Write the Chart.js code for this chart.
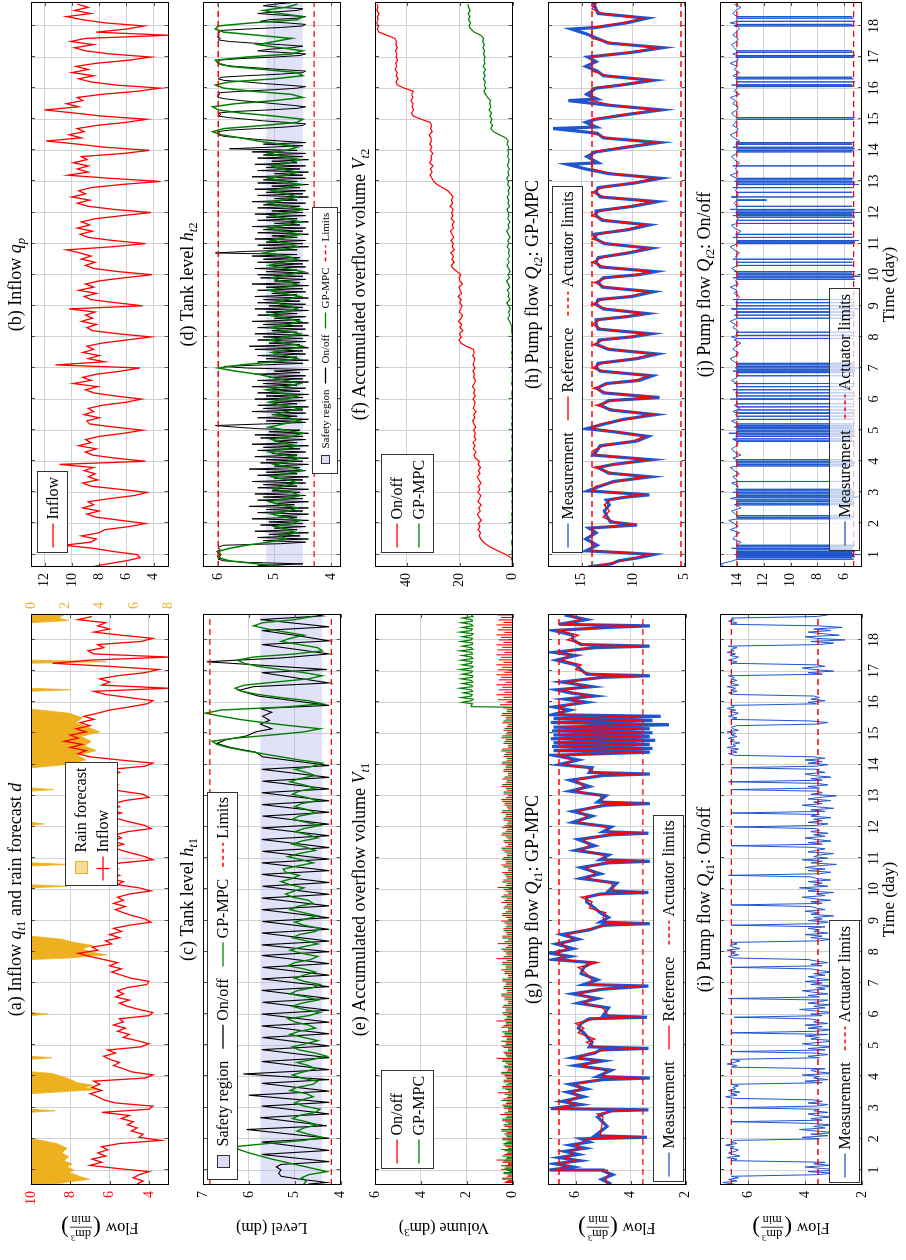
<!DOCTYPE html>
<html>
<head>
<meta charset="utf-8">
<title>Sewer tanks: on/off control versus GP-MPC</title>
<script src="https://cdn.jsdelivr.net/npm/chart.js@4.4.1/dist/chart.umd.min.js"></script>
<style>
  html, body { margin: 0; padding: 0; background: #ffffff; }
  body { width: 906px; height: 1260px; overflow: hidden; position: relative; }
  #figure { position: absolute; left: 0; top: 0; width: 1260px; height: 906px; background: #ffffff;
            transform-origin: 0 0; transform: translate(0, 1260px) rotate(-90deg); }
  #figure canvas { position: absolute; }
</style>
</head>
<body>
<div id="figure"></div>
<script>
// ================= time axis =================
const dayTicks = [1, 2, 3, 4, 5, 6, 7, 8, 9, 10, 11, 12, 13, 14, 15, 16, 17, 18];
const dayRangeLeft = [0.52, 18.83];
const dayRangeRight = [0.6, 18.77];

// ================= (a) inflow q_t1 (sampled every 0.1 day) and rain forecast d =================
const qt1Start = 0.55, qt1Step = 0.1;
const qt1Flow = [4.6,4.3,4.8,4.5,4.0,
  5.6,7.0,6.4,6.9,6.2,6.6,6.1,6.4,5.5,3.4,
  4.5,4.3,4.9,4.6,5.1,4.8,5.4,5.0,6.4,4.0,
  3.8,5.7,6.3,6.6,7.0,6.4,6.9,6.5,6.8,4.2,
  3.8,4.9,5.3,5.8,5.5,6.0,6.3,5.7,6.1,4.4,
  4.0,4.6,5.3,5.0,5.6,5.2,5.8,5.3,5.5,4.0,
  3.8,4.5,5.1,5.5,5.0,5.7,5.3,5.6,5.1,4.1,
  4.0,4.9,5.4,5.9,5.4,6.0,5.6,6.3,7.0,7.6,
  6.6,6.9,5.9,6.2,5.5,6.0,5.4,5.8,5.0,3.9,
  4.2,4.8,5.3,5.7,5.2,5.8,5.3,5.6,5.0,3.9,
  4.5,5.6,5.3,6.0,5.5,6.1,5.6,6.4,5.4,3.8,
  4.2,4.8,5.4,5.8,5.3,5.9,5.4,5.7,5.1,3.9,
  4.2,4.9,5.5,5.9,5.4,6.0,5.5,5.8,5.2,4.0,
  4.3,5.4,6.1,5.6,6.2,5.7,6.0,5.5,5.9,4.2,
  3.8,5.5,7.0,7.6,7.2,8.0,7.4,8.3,7.6,8.0,
  7.2,7.7,7.0,7.5,6.8,7.3,6.6,6.0,5.0,4.1,
  3.8,5.0,6.2,6.8,3.0,6.4,6.0,6.5,5.6,4.2,
  3.5,6.0,8.9,7.0,3.0,6.8,7.1,6.3,6.6,4.4,
  3.8,5.4,6.8,6.0,6.6,6.2,7.6,6.9];
const rainForecast = [[0.52,0],[0.58,1.8],[0.62,2.2],[0.7,3.4],[0.78,2.9],[0.85,2.6],[0.92,2.2],[1.0,2.5],[1.1,2.1],
  [1.2,2.4],[1.3,1.9],[1.42,2.2],[1.55,1.8],[1.7,2.1],[1.85,1.5],[1.95,0.6],[2.0,0],[2.85,0],[2.9,1.4],[2.95,0],
  [3.45,0],[3.5,1.5],[3.58,3.9],[3.65,3.1],[3.72,3.6],[3.8,2.7],[3.9,2.3],[4.0,1.8],[4.1,1.2],[4.15,0],
  [4.55,0],[4.6,1.2],[4.65,0],[5.95,0],[6.0,1.0],[6.05,0],[7.75,0],[7.8,2.2],[7.9,4.4],[8.0,3.4],[8.1,3.0],
  [8.2,3.6],[8.3,2.5],[8.4,1.8],[8.5,0],[10.05,0],[10.1,2.1],[10.15,0],[10.75,0],[10.8,2.2],[10.85,0],
  [12.05,0],[12.1,0.75],[12.15,0],[13.15,0],[13.2,1.3],[13.25,0],[13.9,0],[14.0,2.0],[14.15,3.2],[14.3,2.7],
  [14.45,3.8],[14.6,3.1],[14.75,3.5],[14.9,2.9],[15.05,4.0],[15.2,3.3],[15.35,2.6],[15.5,3.0],[15.65,2.2],
  [15.72,1.0],[15.78,0],[16.35,0],[16.4,2.3],[16.45,0],[17.25,0],[17.3,4.4],[17.35,0],[18.55,0],[18.62,2.2],
  [18.7,1.6],[18.83,2.0]];

// ================= (b) inflow q_p (every 0.1 day) =================
const qpStart = 0.6, qpStep = 0.1;
const qpFlow = [8.6,7.4,6.0,5.0,
  5.2,7.0,8.4,10.6,8.6,8.2,9.3,8.0,7.6,5.8,
  4.6,6.4,8.2,8.9,8.0,9.2,8.4,8.8,7.2,5.4,
  4.5,6.5,8.6,9.2,8.1,8.8,8.3,9.1,8.4,10.9,
  4.6,6.8,8.5,9.0,8.2,9.5,8.6,9.0,8.0,6.2,
  4.8,6.9,8.7,8.9,8.0,9.1,8.4,8.8,7.8,6.0,
  4.9,6.8,8.4,9.0,8.1,9.9,8.6,9.2,8.2,6.4,
  5.0,11.2,7.6,8.8,8.0,9.2,8.4,8.9,7.8,6.0,
  4.2,6.6,8.5,8.9,8.2,9.3,8.5,9.0,8.3,10.2,
  4.8,6.8,8.6,9.1,8.2,9.5,8.4,9.0,8.0,6.2,
  4.1,6.6,8.4,9.0,8.3,9.3,8.6,9.4,10.4,7.0,
  4.6,7.0,8.8,9.4,8.5,9.6,8.7,9.3,8.3,6.3,
  4.2,6.9,8.8,9.6,8.7,10.0,9.0,9.5,8.6,6.4,
  3.5,7.2,10.3,8.8,9.6,8.8,9.9,8.9,9.3,6.2,
  4.3,7.6,9.6,11.9,9.3,10.2,9.1,9.6,8.2,6.0,
  4.5,7.8,9.8,12.0,9.5,10.4,9.2,9.6,7.8,5.2,
  3.5,6.8,8.6,9.5,8.4,10.0,8.8,9.7,8.2,5.8,
  4.2,7.2,9.0,9.8,8.4,10.1,9.0,2.9,8.2,6.0,
  4.7,7.6,9.2,10.4,8.6,9.8,8.8,9.6];

// ================= (c) tank level h_t1 =================
const hT1Safety = [4.4, 5.75];
const hT1Limits = [4.2, 6.85];
const hT1OnOff = [[0.55,4.7],[0.6,4.3],[0.72,4.95],[0.8,5.3],[0.9,5.35],[1.0,5.3],[1.1,5.4],[1.18,5.3],[1.27,4.25],
  [1.5,5.72],[1.63,4.25],[1.9,5.72],[2.02,4.25],[2.3,6.05],[2.42,4.3],[2.68,5.75],[2.8,4.25],[3.05,5.72],[3.17,4.25],
  [3.4,6.0],[3.53,4.25],[3.78,5.72],[3.9,4.25],[4.08,6.12],[4.22,4.25],[4.48,5.72],[4.6,4.25],[4.86,5.72],[4.98,4.25],
  [5.25,5.7],[5.37,4.25],[5.62,5.72],[5.74,4.25],[6.0,5.72],[6.12,4.25],[6.38,5.7],[6.5,4.25],[6.76,5.72],[6.88,4.25],
  [7.13,5.72],[7.25,4.25],[7.5,5.7],[7.62,4.25],[7.88,5.72],[8.0,4.25],[8.22,5.72],[8.34,4.25],[8.6,5.72],[8.72,4.25],
  [8.97,5.7],[9.09,4.25],[9.35,5.72],[9.47,4.25],[9.72,5.72],[9.84,4.25],[10.1,5.7],[10.22,4.25],[10.48,5.72],[10.6,4.25],
  [10.85,5.72],[10.97,4.25],[11.22,5.7],[11.34,4.25],[11.6,5.72],[11.72,4.25],[11.97,5.72],[12.09,4.25],[12.35,5.7],
  [12.47,4.25],[12.72,5.72],[12.84,4.25],[13.1,5.72],[13.22,4.25],[13.47,5.7],[13.59,4.25],[13.85,5.72],[13.97,4.25],
  [14.25,5.7],[14.4,5.85],[14.55,6.4],[14.68,6.7],[14.8,6.5],[14.92,6.05],[15.05,5.85],[15.15,5.5],[15.3,5.75],
  [15.42,5.55],[15.55,5.7],[15.68,5.5],[15.8,5.75],[15.9,4.25],[16.2,5.8],[16.38,6.22],[16.5,5.9],[16.62,4.25],
  [16.95,5.72],[17.05,4.3],[17.3,6.92],[17.42,5.3],[17.55,4.25],[17.85,5.72],[17.97,4.25],[18.15,5.0],[18.3,5.72],
  [18.42,4.25],[18.65,5.75],[18.77,4.4],[18.83,4.6]];
const hT1GpStart = 0.55, hT1GpStep = 0.1;
const hT1Gp = [4.8,4.75,4.85,4.7,4.3,4.6,4.9,5.2,5.5,5.75,6.0,6.2,6.3,5.6,4.8,
  4.4,4.7,4.95,4.8,4.5,4.75,5.05,4.9,4.55,4.45,4.8,5.0,4.85,4.6,4.75,5.1,4.95,4.6,4.5,4.85,
  5.05,4.8,4.55,4.7,4.95,4.6,4.3,4.55,4.9,5.05,4.75,4.5,4.8,5.1,4.9,4.55,4.7,5.0,5.15,4.7,
  4.45,4.8,5.05,4.85,4.5,4.75,5.1,4.95,4.6,4.45,4.8,5.0,4.8,4.55,4.8,5.15,5.0,4.65,4.5,4.85,
  5.1,4.85,4.5,4.75,5.05,4.9,4.55,4.45,4.8,5.0,4.75,4.5,4.8,5.1,4.95,4.6,4.7,5.05,5.2,5.0,
  4.8,5.1,5.3,5.05,4.9,5.2,5.25,4.95,4.6,4.85,5.15,4.9,4.55,4.75,5.05,4.85,4.5,4.7,5.0,4.8,
  4.45,4.75,5.05,4.9,4.55,4.7,5.0,4.85,4.5,4.75,5.05,4.9,4.55,4.8,5.1,4.9,4.55,4.75,5.0,4.6,
  4.4,4.9,5.3,5.7,6.1,6.45,6.7,6.8,6.3,5.5,4.8,4.45,5.1,5.7,6.2,6.6,6.95,6.6,5.2,4.4,
  4.7,5.3,5.8,6.15,6.3,6.1,5.4,4.7,4.4,4.8,5.3,5.8,6.1,6.25,5.9,5.0,4.4,4.5,4.9,5.3,
  5.1,4.8,5.2,5.6,5.9,5.7,5.0,4.6];

// ================= (d) tank level h_t2 =================
const hT2Safety = [4.5, 5.15];
const hT2Limits = [4.3, 6.0];
const hT2OnOffStart = 0.6, hT2OnOffStep = 0.05;
const hT2OnOff = [4.6,5.3,4.5,5.5,5.9,
  6.0,5.95,6.02,5.97,6.0,6.03,5.96,6.0,5.98,5.9,
  4.9,4.45,5.2,4.4,5.3,4.55,5.1,4.4,5.35,4.6,5.0,4.45,5.25,
  4.5,5.1,4.4,5.4,4.6,4.95,4.4,5.3,4.5,5.15,4.4,5.45,4.65,5.0,4.4,5.3,4.5,5.2,4.45,5.35,
  4.55,5.05,4.4,5.3,4.6,5.2,4.45,5.4,4.5,5.0,4.4,5.3,4.6,5.15,4.45,5.45,4.55,5.0,4.4,5.25,
  4.5,5.15,4.4,5.35,4.6,5.05,4.45,5.3,4.55,5.2,4.4,5.4,4.6,5.0,4.45,5.25,4.5,5.35,4.4,5.1,
  4.55,5.3,5.7,6.05,5.2,4.45,5.15,4.4,5.3,4.6,5.05,4.45,5.4,4.5,5.2,4.4,5.3,4.6,5.0,4.45,
  5.35,4.5,5.15,4.4,5.3,4.55,5.05,4.45,5.4,4.6,5.2,4.4,5.3,4.5,5.1,4.45,5.35,4.55,5.0,4.4,
  5.5,5.9,5.2,4.5,5.3,4.4,5.15,4.6,5.3,4.45,5.05,4.5,5.35,4.4,5.45,4.55,5.1,4.45,5.3,4.5,
  5.2,4.4,5.35,4.6,5.05,4.45,5.3,4.5,5.2,4.4,5.4,4.55,5.0,4.45,5.3,4.6,5.15,4.4,5.35,4.5,
  5.1,4.45,5.3,4.55,5.2,4.4,5.35,4.6,5.05,4.45,5.3,4.5,5.15,4.4,5.4,4.55,5.0,4.45,5.25,4.5,
  5.3,4.4,5.15,4.6,5.35,4.45,5.05,4.5,5.3,4.4,5.2,4.55,5.4,4.6,6.05,5.5,4.6,5.2,4.4,5.3,
  4.5,5.15,4.45,5.35,4.6,5.05,4.4,5.3,4.5,5.2,4.45,5.4,4.55,5.0,4.4,5.3,4.6,5.15,4.45,5.35,
  4.5,5.05,4.4,5.3,4.55,5.2,4.45,5.4,4.6,5.0,4.4,5.3,4.5,5.15,4.45,5.35,4.55,5.05,4.4,5.3,
  4.6,5.2,4.45,5.4,4.5,5.0,4.4,5.3,4.55,5.15,4.45,5.35,4.6,5.05,4.4,5.3,4.5,5.2,4.45,5.4,
  4.6,5.8,5.1,4.5,5.2,4.45,4.9,5.3,5.6,5.9,6.0,5.97,6.02,5.8,5.3,4.8,4.5,4.45,4.8,5.2,
  5.5,5.8,6.0,5.95,6.0,5.7,5.1,4.6,4.45,4.7,5.0,5.3,5.6,5.85,6.0,6.02,5.97,6.0,5.6,5.0,
  4.6,4.45,4.8,5.2,5.5,5.9,6.0,5.95,5.5,4.9,4.5,4.45,4.9,5.3,5.7,5.95,6.0,5.98,6.0,5.6,
  5.0,4.55,4.45,4.9,5.3,5.1,4.7,4.5,4.9,5.4,5.8,6.0,5.96,6.02,5.98,6.0,5.97,6.0,5.5,4.9,
  4.5,4.45,4.8,5.25,5.1,4.6,4.45,4.9,5.3,5.0,4.6,4.5,4.9,5.2,5.0,4.7];
const hT2GpStart = 0.6, hT2GpStep = 0.1;
const hT2Gp = [4.8,5.3,5.8,6.0,5.95,6.0,5.8,5.5,5.1,4.8,4.9,4.6,4.8,5.0,
  4.7,4.55,4.8,5.05,4.75,4.6,4.9,5.1,4.8,4.55,4.7,5.0,4.85,4.6,4.75,5.05,4.8,4.5,4.7,5.0,
  4.75,4.55,4.85,5.1,4.8,4.6,4.9,5.05,4.7,4.5,4.8,5.1,4.85,4.55,4.75,5.0,4.8,4.55,4.85,5.1,
  4.8,4.6,4.9,5.15,4.8,4.55,4.8,5.05,5.3,5.7,6.0,5.6,5.0,4.6,4.8,5.05,4.75,4.5,4.8,5.1,
  4.8,4.55,4.85,5.05,4.75,4.55,4.8,5.1,4.85,4.6,4.75,5.0,4.8,4.55,4.85,5.1,4.8,4.6,4.9,5.05,
  4.75,4.5,4.8,5.1,4.85,4.6,4.8,5.2,4.9,4.6,4.75,5.05,4.8,4.55,4.85,5.1,4.8,4.55,4.8,5.05,
  4.75,4.5,4.8,5.1,4.85,4.6,4.8,5.05,4.8,4.55,4.85,5.1,4.8,4.6,4.9,5.05,4.75,4.55,4.85,5.1,
  4.8,4.6,4.9,5.3,5.6,5.95,6.1,5.9,5.2,4.6,4.5,5.0,5.6,6.0,6.1,5.7,5.0,4.5,4.7,5.4,
  5.9,6.05,5.8,5.0,4.5,4.6,5.2,5.8,6.0,6.05,5.5,4.7,4.5,4.9,5.3,5.0,4.7,5.3,5.9,6.05,
  6.0,5.4,4.6,4.5,4.9,5.2,4.8,4.6];

// ================= (e) accumulated overflow volume V_t1 =================
const vT1OnOffSpikes = [[0.6,.35],[0.66,.2],[0.74,.45],[0.8,.25],[0.88,.4],[0.95,.15],[1.02,.5],[1.1,.3],[1.18,.2],
  [1.25,.45],[1.32,.7],[1.4,.25],[1.5,.35],[1.58,.2],[1.66,.5],[1.75,.3],[1.85,.4],[1.93,.2],[2.02,.45],[2.12,.3],
  [2.2,.25],[2.3,.5],[2.4,.35],[2.5,.2],[2.58,.45],[2.68,.3],[2.78,.55],[2.88,.2],[2.98,.35],[3.08,.45],[3.18,.25],
  [3.28,.4],[3.38,.2],[3.48,.65],[3.58,.3],[3.68,.45],[3.78,.2],[3.88,.4],[3.98,.3],[4.08,.5],[4.18,.25],[4.28,.35],
  [4.38,.2],[4.48,.45],[4.58,.7],[4.68,.3],[4.78,.4],[4.88,.2],[4.98,.5],[5.08,.3],[5.18,.25],[5.28,.45],[5.38,.35],
  [5.48,.2],[5.58,.5],[5.68,.3],[5.78,.7],[5.88,.25],[5.98,.4],[6.1,.3],[6.22,.45],[6.34,.2],[6.46,.35],[6.58,.5],
  [6.7,.25],[6.82,.4],[6.94,.3],[7.06,.45],[7.18,.2],[7.3,.35],[7.42,.5],[7.54,.3],[7.66,.45],[7.78,.7],[7.9,.25],
  [8.02,.4],[8.14,.3],[8.26,.65],[8.38,.2],[8.5,.45],[8.62,.3],[8.74,.4],[8.86,.25],[8.98,.5],[9.1,.3],[9.22,.45],
  [9.34,.2],[9.46,.35],[9.58,.5],[9.7,.25],[9.82,.4],[9.94,.3],[10.06,.65],[10.18,.25],[10.3,.4],[10.42,.3],[10.54,.45],
  [10.66,.2],[10.78,.5],[10.9,.3],[11.02,.4],[11.14,.25],[11.26,.45],[11.38,.3],[11.5,.35],[11.62,.2],[11.74,.5],
  [11.86,.3],[11.98,.45],[12.1,.25],[12.22,.4],[12.34,.3],[12.46,.5],[12.58,.2],[12.7,.35],[12.82,.45],[12.94,.3],
  [13.06,.4],[13.18,.25],[13.3,.5],[13.42,.3],[13.54,.45],[13.66,.2],[13.78,.4],[13.9,.3],[14.02,.5],[14.14,.25],
  [14.26,.4],[14.38,.3],[14.5,.45],[14.62,.2],[14.74,.35],[14.86,.5],[14.98,.3],[15.1,.4],[15.22,.25],[15.34,.45],
  [15.46,.3],[15.58,.5],[15.7,.25],[15.82,.4],[15.92,.55],[16.0,.3],[16.08,.65],[16.16,.4],[16.24,.7],[16.32,.35],
  [16.4,.6],[16.48,.45],[16.56,.7],[16.64,.3],[16.72,.6],[16.8,.5],[16.88,.7],[16.96,.35],[17.04,.65],[17.12,.45],
  [17.2,.7],[17.28,.4],[17.36,.6],[17.44,.5],[17.52,.7],[17.6,.35],[17.68,.65],[17.76,.45],[17.84,.7],[17.92,.4],
  [18.0,.6],[18.08,.5],[18.16,.7],[18.24,.35],[18.32,.65],[18.4,.45],[18.48,.7],[18.56,.4],[18.64,.6],[18.72,.5],[18.8,.65]];
const vT1GpSpikes = [[0.63,.3],[0.71,.45],[0.84,.2],[0.92,.4],[0.99,.25],[1.06,.35],[1.14,.5],[1.22,.2],[1.29,.4],
  [1.36,.3],[1.45,.45],[1.54,.25],[1.62,.35],[1.7,.2],[1.8,.4],[1.89,.3],[1.97,.45],[2.07,.25],[2.16,.35],[2.25,.5],
  [2.35,.2],[2.45,.4],[2.54,.3],[2.63,.45],[2.73,.25],[2.83,.35],[2.93,.2],[3.03,.4],[3.13,.3],[3.23,.5],[3.33,.25],
  [3.43,.35],[3.53,.2],[3.63,.45],[3.73,.3],[3.83,.4],[3.93,.25],[4.03,.35],[4.13,.5],[4.23,.2],[4.33,.4],[4.43,.3],
  [4.53,.45],[4.63,.25],[4.73,.35],[4.83,.2],[4.93,.4],[5.03,.3],[5.13,.5],[5.23,.25],[5.33,.35],[5.43,.45],[5.53,.2],
  [5.63,.4],[5.73,.3],[5.83,.35],[5.93,.25],[6.04,.45],[6.16,.3],[6.28,.4],[6.4,.2],[6.52,.35],[6.64,.5],[6.76,.25],
  [6.88,.4],[7.0,.3],[7.12,.45],[7.24,.2],[7.36,.35],[7.48,.3],[7.6,.45],[7.72,.25],[7.84,.4],[7.96,.3],[8.08,.5],
  [8.2,.2],[8.32,.35],[8.44,.45],[8.56,.25],[8.68,.4],[8.8,.3],[8.92,.35],[9.04,.2],[9.16,.45],[9.28,.3],[9.4,.4],
  [9.52,.25],[9.64,.35],[9.76,.5],[9.88,.2],[10.0,.4],[10.12,.3],[10.24,.45],[10.36,.25],[10.48,.35],[10.6,.2],
  [10.72,.4],[10.84,.3],[10.96,.45],[11.08,.25],[11.2,.35],[11.32,.5],[11.44,.2],[11.56,.4],[11.68,.3],[11.8,.45],
  [11.92,.25],[12.04,.35],[12.16,.2],[12.28,.4],[12.4,.3],[12.52,.45],[12.64,.25],[12.76,.35],[12.88,.5],[13.0,.2],
  [13.12,.4],[13.24,.3],[13.36,.45],[13.48,.25],[13.6,.35],[13.72,.2],[13.84,.4],[13.96,.3],[14.08,.45],[14.2,.25],
  [14.32,.35],[14.44,.5],[14.56,.2],[14.68,.4],[14.8,.3],[14.92,.45],[15.04,.25],[15.16,.35],[15.28,.2],[15.4,.4],
  [15.52,.3],[15.64,.45],[15.76,.25]];
const vT1GpJump = [[15.84, 0], [15.86, 1.8]];
const vT1GpAfterStart = 15.9, vT1GpAfterStep = 0.05;
const vT1GpAfter = [1.8,1.75,2.2,1.78,1.72,2.25,1.8,1.76,2.15,1.74,1.8,2.3,1.75,1.78,2.2,1.73,1.8,2.25,1.76,1.74,
  2.2,1.8,1.75,2.3,1.78,1.72,2.2,1.8,1.76,2.25,1.74,1.8,2.2,1.75,1.78,2.3,1.73,1.8,2.2,1.76,1.74,2.25,1.8,1.75,2.2,
  1.78,1.72,2.3,1.8,1.76,2.2,1.74,1.8,2.25,1.75,1.78,2.2,1.73,1.8];

// ================= (f) accumulated overflow volume V_t2 (every 0.1 day) =================
const vT2Start = 0.6, vT2Step = 0.1;
const vT2OnOff = [0.0,0.1,0.2,0.6,
  2.5,5.0,7.5,9.5,11.0,12.0,12.6,12.1,13.0,12.4,
  12.9,11.8,12.7,13.3,12.2,12.8,11.9,13.1,12.5,12.0,
  13.2,12.4,12.9,11.9,12.7,13.4,12.3,12.9,12.1,13.0,
  12.6,14.0,14.6,13.8,14.9,14.2,15.0,13.9,14.5,14.1,
  14.8,13.9,14.6,15.1,14.3,14.7,13.8,14.9,14.4,14.2,
  15.0,14.1,14.7,14.3,15.2,14.5,14.0,14.8,14.4,15.0,
  14.2,14.9,14.6,14.3,15.1,14.5,14.8,17.5,19.5,20.3,
  19.4,20.1,18.8,19.9,19.2,20.4,19.5,18.9,20.2,19.6,
  19.1,20.0,19.4,20.6,19.3,19.8,20.3,19.0,19.9,20.2,
  19.6,21.0,22.5,23.2,22.1,22.9,22.3,23.4,22.0,22.8,
  22.4,23.3,22.2,22.9,23.5,22.3,22.8,22.1,23.2,22.6,
  23.0,22.4,23.6,22.7,23.1,22.5,23.4,24.5,26.5,28.5,
  29.8,30.5,31.2,30.4,31.0,30.1,31.4,30.6,30.9,30.2,
  31.1,30.5,31.3,30.7,30.9,31.5,30.4,31.0,30.6,31.2,
  34.5,37.5,38.2,37.4,38.0,37.6,38.4,37.7,38.1,37.5,
  41.0,43.5,44.1,43.3,44.0,43.6,44.4,43.8,44.2,43.5,
  44.0,43.7,44.3,43.6,44.1,43.9,44.5,47.5,50.5,51.2,
  50.6,51.4,50.8,51.1,50.5,51.3,50.9,51.2];
const vT2Gp = [0.0,0.1,0.0,0.2,
  0.1,0.3,0.0,0.2,0.4,0.1,0.0,0.3,0.1,0.2,
  0.0,0.3,0.1,0.4,0.0,0.2,0.1,0.3,0.0,0.2,
  0.1,0.4,0.0,0.2,0.3,0.1,0.0,0.3,0.1,0.2,
  0.0,0.3,0.1,0.2,0.4,0.0,0.2,0.1,0.3,0.0,
  0.2,0.1,0.4,0.0,0.3,0.1,0.2,0.0,0.3,0.1,
  0.0,0.2,0.3,0.1,0.0,0.4,0.1,0.2,0.0,0.3,
  0.1,0.2,0.0,0.3,0.1,0.4,0.0,0.2,0.1,0.3,
  0.0,0.2,0.4,0.3,0.6,1.2,1.8,1.1,1.6,0.9,
  1.5,2.2,1.0,1.7,1.3,2.0,1.1,1.6,2.3,1.2,
  1.8,1.0,1.5,2.1,1.3,1.9,1.1,1.6,1.2,2.0,
  1.4,1.8,1.0,1.6,2.2,1.3,1.7,1.1,1.9,1.4,
  1.6,2.1,1.2,1.8,1.4,2.0,1.3,1.7,1.1,1.9,
  1.5,2.2,1.4,1.8,1.2,2.0,1.6,1.3,1.9,1.5,
  1.8,1.4,2.1,1.6,2.5,5.0,7.2,8.3,7.6,8.4,
  7.8,8.6,8.0,8.9,8.2,8.7,8.3,9.5,10.2,10.8,
  10.1,10.7,10.3,11.0,10.4,10.9,10.2,11.1,10.5,10.8,
  10.4,11.0,10.6,11.2,10.7,11.3,11.0,12.0,14.5,15.8,
  16.4,15.9,16.7,16.2,16.8,16.1,16.6,16.9];

// ================= (g) pump flow Q_t1 with GP-MPC =================
const qT1Limits = [3.55, 6.6];
const qT1GpDays = [0.55,0.7,0.85,0.97,1.0,1.1,1.2,1.3,1.4,1.5,1.6,1.7,1.8,1.9,2.0,
  2.05,2.1,2.4,2.7,2.8,2.9,2.93,2.97,3.1,3.2,3.35,3.5,3.6,3.75,3.9,
  3.95,4.0,4.2,4.35,4.5,4.6,4.75,4.85,4.9,4.95,5.1,5.2,5.4,5.55,5.7,5.85,5.9,
  5.95,6.2,6.35,6.5,6.65,6.8,6.9,
  6.95,7.1,7.3,7.5,7.65,7.75,7.85,7.95,8.1,8.25,8.4,8.55,8.7,8.85,8.9,
  8.95,9.1,9.25,9.4,9.6,9.75,9.85,9.9,
  9.95,10.2,10.35,10.5,10.7,10.85,10.9,
  10.95,11.1,11.25,11.4,11.6,11.75,11.8,
  11.85,12.0,12.15,12.35,12.5,12.7,12.75,
  12.8,13.0,13.15,13.3,13.5,13.65,13.7,
  13.75,13.9,14.0,14.15,14.3,
  14.4,14.45,14.52,14.58,14.65,14.7,14.78,14.83,14.9,14.95,15.02,15.08,15.15,15.2,15.28,15.35,15.42,15.48,15.55,15.6,
  15.75,15.85,
  16.0,16.1,16.2,16.3,16.4,16.5,16.65,16.8,16.85,
  16.9,17.05,17.2,17.35,17.5,17.6,17.75,17.8,
  17.85,18.0,18.15,18.3,18.4,18.45,
  18.5,18.65,18.8];
const qT1GpRef = [4.85,4.9,4.8,4.85,6.75,6.3,6.55,6.0,6.4,6.1,6.2,5.8,6.0,5.7,5.6,
  3.6,5.1,5.05,5.0,5.2,4.5,3.6,6.7,6.0,6.3,5.9,6.1,5.8,6.0,5.2,
  3.6,5.0,4.9,5.8,5.2,5.9,5.5,4.9,3.6,5.3,5.6,5.3,5.9,5.7,6.0,5.3,3.6,
  4.8,5.0,5.7,5.4,5.9,5.2,3.6,
  5.5,5.4,5.6,5.9,5.2,6.6,6.4,6.7,6.3,6.5,6.1,6.3,5.7,4.8,3.6,
  4.9,5.0,4.9,5.5,5.4,5.8,4.9,3.6,
  4.6,4.7,5.6,5.3,5.6,5.0,3.6,
  4.9,5.0,5.8,5.5,5.7,4.9,3.6,
  4.8,4.9,5.9,5.6,5.9,5.1,3.6,
  5.0,5.1,6.0,5.7,6.0,5.2,3.6,
  5.3,5.6,6.4,6.1,6.6,
  3.6,6.6,3.6,6.6,3.6,6.6,3.6,6.6,3.6,6.6,3.6,6.6,3.6,6.6,3.6,6.6,3.6,6.6,3.6,6.6,
  6.4,6.6,
  5.8,6.2,5.5,6.0,6.5,5.6,6.3,5.2,3.6,
  5.4,6.0,5.8,6.5,6.2,6.6,5.5,3.6,
  5.6,6.3,5.9,6.6,5.0,3.6,
  6.4,5.8,6.2];
const qT1GpMeas = [4.7,5.05,4.65,5.0,6.95,6.1,6.75,5.85,6.6,5.9,6.4,5.65,6.2,5.5,5.8,
  3.4,5.3,4.85,5.2,5.0,4.7,3.35,6.9,5.8,6.5,5.7,6.3,5.6,6.2,5.0,
  3.3,5.2,4.7,6.0,5.0,6.1,5.3,5.1,3.35,5.5,5.4,5.5,5.7,5.9,5.8,5.5,3.4,
  5.0,4.8,5.9,5.2,6.1,5.0,3.35,
  5.7,5.2,5.8,5.7,5.4,6.8,6.2,6.9,6.1,6.7,5.9,6.5,5.5,5.0,3.3,
  5.1,4.8,5.1,5.3,5.6,5.6,5.1,3.35,
  4.8,4.5,5.8,5.1,5.8,4.8,3.3,
  5.1,4.8,6.0,5.3,5.9,4.7,3.35,
  5.0,4.7,6.1,5.4,6.1,4.9,3.3,
  5.2,4.9,6.2,5.5,6.2,5.0,3.3,
  5.5,5.4,6.6,5.9,6.8,
  3.3,6.8,3.2,6.85,3.3,6.8,3.1,6.9,3.3,6.8,3.2,6.85,3.3,6.8,2.6,6.9,3.2,6.8,2.9,6.85,
  6.2,6.8,
  5.6,6.4,5.3,6.2,6.7,5.4,6.5,5.0,3.3,
  5.6,5.8,6.0,6.7,6.0,6.8,5.3,3.3,
  5.8,6.1,6.1,6.8,4.8,3.3,
  6.6,5.6,6.4];

// ================= (h) pump flow Q_t2 with GP-MPC =================
const qT2Limits = [5.3, 14.0];
const qT2GpDays = [0.6,0.7,0.8,0.9,1.0,1.05,1.12,1.3,1.5,1.7,1.85,
  1.95,2.05,2.2,2.4,2.6,2.75,2.85,2.92,
  3.05,3.2,3.35,3.5,3.62,3.8,3.9,4.05,
  4.2,4.35,4.5,4.65,4.8,4.95,5.05,
  5.2,5.35,5.5,5.65,5.8,5.95,6.05,
  6.2,6.35,6.5,6.6,6.75,6.9,7.0,
  7.15,7.3,7.45,7.6,7.75,7.9,8.0,8.1,
  8.25,8.4,8.55,8.65,8.75,8.9,9.05,
  9.2,9.3,9.45,9.6,9.75,9.9,10.0,10.1,
  10.25,10.4,10.55,10.7,10.85,11.0,
  11.15,11.3,11.45,11.6,11.75,11.9,
  12.05,12.2,12.35,12.5,12.65,12.8,12.95,
  13.1,13.25,13.4,13.55,13.6,13.8,13.95,
  14.1,14.25,14.4,14.55,14.7,14.75,14.9,15.0,
  15.15,15.3,15.45,15.6,15.65,15.8,16.0,
  16.1,16.25,16.4,16.55,16.7,16.85,17.0,
  17.15,17.3,17.45,17.6,17.75,17.9,17.95,
  18.1,18.25,18.4,18.55,18.77];
const qT2GpRef = [14.0,12.5,11.0,9.8,8.4,10.0,14.0,14.0,14.0,14.0,14.0,
  10.0,11.8,12.9,12.3,12.8,12.2,11.0,8.8,
  14.0,13.6,11.5,8.7,12.0,13.8,11.5,8.6,
  13.5,13.9,12.8,10.0,8.9,11.5,14.0,
  13.2,10.5,8.2,11.8,13.6,12.0,7.8,
  12.5,13.9,12.2,9.8,8.5,12.8,14.0,
  13.0,10.0,8.0,12.0,13.9,12.9,10.5,8.6,
  13.0,14.0,13.2,11.0,9.0,12.5,14.0,
  13.0,10.5,8.4,12.6,13.8,12.5,9.8,8.2,
  12.8,14.0,13.0,10.8,8.6,12.4,
  14.0,13.4,10.8,8.8,12.6,14.0,
  13.2,10.4,8.0,12.8,14.0,13.0,10.2,
  7.7,12.0,14.0,14.0,14.0,14.0,14.0,
  11.0,7.8,12.5,14.0,14.0,14.0,14.0,14.0,
  11.0,7.6,12.0,14.0,14.0,14.0,14.0,
  11.5,8.4,12.5,14.0,14.0,14.0,14.0,
  10.5,7.5,12.0,14.0,14.0,14.0,14.0,
  11.0,9.0,13.0,14.0,13.5];
const qT2GpMeas = [14.4,12.1,11.4,9.4,8.0,10.4,14.6,13.5,14.6,13.6,14.3,
  9.6,12.2,12.5,12.8,12.3,12.6,10.6,8.4,
  14.4,13.2,11.9,8.3,12.4,13.4,11.9,8.2,
  13.9,13.5,13.2,9.6,8.5,11.9,14.5,
  12.8,10.9,7.8,12.2,13.2,12.4,7.4,
  12.9,13.5,12.6,9.4,8.1,13.2,13.6,
  13.4,9.6,7.6,12.4,13.5,13.3,10.1,8.2,
  13.4,13.6,13.6,10.6,8.6,12.9,13.6,
  13.4,10.1,8.0,13.0,13.4,12.9,9.4,7.8,
  13.2,13.6,13.4,10.4,8.2,12.8,
  13.6,13.8,10.4,8.4,13.0,13.6,
  13.6,10.0,7.6,13.2,13.6,13.4,9.8,
  7.3,12.4,14.6,16.4,13.4,14.5,13.6,
  10.6,7.4,12.9,13.5,17.8,13.6,14.6,13.6,
  10.6,7.2,12.4,16.3,13.5,14.5,13.6,
  11.1,8.0,12.9,13.5,14.6,13.6,14.4,
  10.1,7.1,12.4,13.5,14.6,16.0,13.6,
  10.6,8.6,13.4,13.6,13.9];

// ================= (i) pump flow Q_t1 with on/off control (every 0.05 day) =================
const qT1OnOffStart = 0.55, qT1OnOffStep = 0.05;
const qT1OnOffMeas = [6.5,6.9,6.4,6.7,6.35,6.6,
  3.6,3.0,3.9,2.7,3.4,4.0,3.1,3.7,3.3,
  6.6,6.4,6.75,6.3,6.55,6.7,6.45,6.35,6.65,6.5,6.8,6.4,6.6,6.5,
  3.5,4.1,3.2,3.8,2.9,3.6,4.2,3.3,3.7,3.0,3.9,
  6.6,
  3.4,3.8,3.1,3.6,3.9,3.2,3.7,3.5,
  6.7,
  3.6,3.2,3.9,3.4,3.7,
  6.5,6.8,6.4,6.6,6.3,6.7,6.45,6.55,6.35,6.6,
  3.4,4.0,3.2,3.7,3.5,4.1,3.0,3.6,3.8,3.3,
  6.6,6.4,6.75,6.5,6.3,6.6,
  3.5,3.9,3.2,3.6,
  6.6,
  3.3,3.9,3.0,3.7,4.1,3.4,2.9,3.8,3.5,4.0,3.2,
  6.6,
  3.6,3.1,3.9,3.4,4.0,3.2,3.7,3.5,3.9,
  6.5,
  3.4,3.8,3.0,3.6,4.2,3.3,3.7,3.1,3.9,3.5,3.2,
  6.7,
  3.5,3.9,3.2,3.7,4.1,3.3,3.6,2.9,3.8,3.4,4.0,3.1,3.6,3.9,3.3,3.7,3.0,3.5,3.8,
  6.6,
  3.4,3.8,3.2,3.6,3.9,
  6.5,6.7,6.35,6.6,6.45,6.75,6.3,6.55,6.65,6.4,6.6,
  3.5,3.1,3.8,3.4,4.0,3.2,3.7,3.5,3.9,3.3,
  6.6,
  3.6,3.2,3.9,3.4,3.7,3.0,3.8,3.5,4.0,3.3,3.6,3.8,
  6.6,
  3.4,3.8,3.1,3.7,4.1,3.3,3.6,3.0,3.9,3.5,4.2,3.2,3.7,3.4,3.9,3.1,3.6,3.8,
  6.7,
  3.5,3.1,3.9,3.3,4.0,3.6,2.9,3.8,3.4,4.1,3.2,3.7,3.5,3.0,3.9,3.6,3.3,3.8,
  6.6,
  3.4,3.9,3.1,3.6,4.0,3.3,3.7,3.2,3.8,3.5,3.6,
  6.5,
  3.6,3.2,3.9,3.4,3.7,3.1,3.8,3.5,
  6.6,
  3.3,3.8,3.0,3.6,4.1,3.4,3.7,3.1,3.9,3.5,2.9,3.8,3.4,3.6,
  6.6,
  3.5,3.9,3.2,3.6,
  6.7,
  3.4,3.8,3.1,3.7,4.0,3.3,3.6,3.5,
  6.6,
  3.6,3.2,3.9,3.4,4.0,3.3,3.7,
  6.5,6.7,6.4,6.6,6.35,6.75,6.45,6.55,6.3,6.65,6.5,6.7,6.4,6.6,6.45,6.75,6.35,6.55,6.6,6.4,
  3.6,3.2,3.8,
  6.6,6.4,6.7,6.5,6.35,6.65,6.45,6.75,6.5,6.6,
  3.6,3.9,3.3,3.8,3.5,3.7,
  6.5,6.7,6.4,6.6,6.45,6.75,6.35,6.55,6.65,6.4,6.6,6.5,6.7,
  3.4,3.9,3.0,3.7,4.1,3.3,3.6,
  6.6,6.4,6.7,6.5,6.35,6.65,6.45,6.75,6.5,6.6,6.4,6.7,
  3.5,3.0,3.8,2.6,3.6,4.0,2.8,3.4,3.9,3.1,3.7,2.7,3.5,
  6.6,6.4,6.7,6.5,6.6,
  3.6,3.2];

// ================= (j) pump flow Q_t2 with on/off control =================
const qT2OnLevel = 14.0;
const qT2OnStart = 0.6, qT2OnStep = 0.1;
const qT2OnNoise = [14.9,15.2,14.3,13.8,14.2,13.9,14.4,14.0,13.7,14.3,
  14.1,13.8,14.5,13.9,14.2,14.6,13.8,14.1,14.4,13.7,
  14.2,14.0,14.5,13.8,14.3,14.1,13.9,14.4,14.0,14.3,
  13.8,14.2,14.5,13.9,14.1,14.3,13.7,14.2,14.4,14.0,
  13.9,14.3,14.1,14.6,13.8,14.2,14.0,14.4,13.9,14.1,
  14.3,13.8,14.2,14.0,14.5,13.9,14.1,14.3,13.8,14.2,
  14.4,14.0,13.9,14.3,14.1,13.8,14.2,14.5,14.0,13.9,
  14.3,14.1,13.7,14.2,14.4,14.0,13.9,14.3,14.1,14.5,
  13.8,14.2,14.0,14.4,13.9,14.1,14.3,13.8,14.2,14.0,
  14.5,13.9,14.1,14.3,13.8,14.2,14.4,14.0,13.9,14.3,
  14.1,13.8,14.2,14.5,14.0,13.9,14.3,14.1,13.7,14.2,
  14.4,14.0,13.9,14.3,14.1,14.5,13.8,14.2,14.0,14.4,
  13.9,14.1,14.3,13.8,14.2,14.0,14.5,13.9,14.1,14.3,
  13.8,14.2,14.4,14.0,13.9,14.3,14.1,13.8,14.2,14.5,
  14.0,13.9,14.3,14.1,13.7,14.2,14.4,14.0,13.9,14.3,
  14.1,14.5,13.8,14.2,14.0,14.4,13.9,14.1,14.3,13.8,
  14.2,14.0,14.5,13.9,14.1,14.3,13.8,14.2,14.4,14.0,
  13.9,14.3,14.1,13.8,14.2,14.5,14.0,13.9,14.3,14.1,
  13.7,14.2];
const qT2Off = [[0.85,5.3],[0.9,5.4],[0.93,5.2],[0.97,5.3],[1.0,4.75],[1.03,5.3],[1.07,5.4],[1.1,5.2],[1.15,5.3],
  [1.2,5.4],[1.25,5.3],[1.3,5.2],[2.15,5.5],[2.2,5.3],[2.25,5.4],[2.6,5.3],[2.65,5.2],[2.72,5.4],[2.78,5.3],
  [2.85,4.9],[2.9,5.3],[2.95,5.4],[3.0,5.2],[3.05,5.3],[3.1,5.4],[3.35,5.6],[3.85,5.3],[3.9,5.4],[3.95,5.2],
  [4.0,5.3],[4.05,5.4],[4.65,5.3],[4.72,5.4],[4.8,5.2],[4.85,5.3],[4.9,5.4],[4.95,5.3],[5.0,5.2],[5.05,5.3],
  [5.1,5.4],[5.15,5.3],[5.2,5.2],[5.35,5.3],[5.45,5.4],[5.55,5.3],[5.65,5.2],[5.75,5.3],[5.85,5.4],[6.0,5.3],
  [6.1,5.2],[6.2,5.3],[6.3,5.4],[6.4,5.3],[6.5,5.2],[6.75,5.3],[6.85,5.4],[6.9,5.2],[6.95,5.3],[7.0,4.9],
  [7.05,5.3],[7.1,5.4],[7.15,5.3],[7.95,5.3],[8.05,5.4],[8.15,5.3],[8.6,5.3],[8.7,5.2],[8.8,5.4],[8.9,4.9],
  [9.0,5.3],[9.1,5.4],[9.2,5.3],[9.85,5.2],[9.9,5.3],[9.95,4.8],[10.0,5.3],[10.05,5.4],[10.1,5.2],[10.3,5.3],
  [10.4,5.4],[10.5,5.3],[11.0,5.3],[11.05,5.2],[11.1,4.9],[11.2,5.3],[11.3,5.4],[11.65,5.3],[11.75,5.4],
  [11.85,5.2],[11.9,5.3],[11.95,5.4],[12.0,4.8],[12.05,5.3],[12.1,5.2],[12.2,5.4],[12.4,11.8],[12.5,5.3],
  [12.65,5.4],[12.8,5.3],[12.9,4.9],[12.95,5.2],[13.0,5.3],[13.05,5.4],[13.1,5.3],[13.5,5.3],[13.95,5.4],
  [14.0,5.3],[14.05,5.2],[14.1,5.3],[14.2,5.4],[14.25,5.3],[15.0,5.3],[15.05,5.2],[16.05,5.3],[16.1,5.4],
  [16.2,5.2],[16.3,5.3],[16.35,5.4],[17.0,5.3],[17.05,5.2],[17.15,5.3],[17.2,5.4],[18.0,5.3],[18.05,5.4],
  [18.15,5.2],[18.25,5.3],[18.3,5.4]];

// ================= styling =================
const SERIF = '"Liberation Serif", "DejaVu Serif", "Times New Roman", serif';
const RED = '#ff0000', GREEN = '#008000', BLACK = '#000000', BLUE = '#1f56d0', ORANGE = '#EDB120';
const GRID = '#d2d2d2', BAND = 'rgba(170,170,235,0.35)';
const TICK_SIZE = 14, TITLE_SIZE = 18, AXIS_TITLE_SIZE = 16;

// ================= layout of the unrotated figure =================
const TITLE_SPACE = 31;
const rowTop = [31, 203, 375, 548, 720];
const plotH = 142;
const columns = [
  { canvasLeft: 0, canvasWidth: 670, plotLeft: 75, plotRight: 646, range: dayRangeLeft },
  { canvasLeft: 664, canvasWidth: 596, plotLeft: 693, plotRight: 1258, range: dayRangeRight }
];

// ================= helpers that turn the arrays into chart points =================
const sampled = (start, step, vals) => vals.map((v, i) => ({ x: +(start + i * step).toFixed(3), y: v }));
const pairs = arr => arr.map(([x, y]) => ({ x, y }));
const level = (v, range) => [{ x: range[0], y: v }, { x: range[1], y: v }];
const zip = (xs, ys) => xs.map((x, i) => ({ x, y: ys[i] }));
const spikes = (arr, base) => {
  const out = [];
  arr.forEach(([x, h]) => { out.push({ x, y: base }, { x, y: h }, { x, y: base }); });
  return out;
};
function onOffWithDrops(start, step, noise, drops, high) {
  const out = sampled(start, step, noise);
  drops.forEach(([x, low]) => { out.push({ x: x - 0.004, y: high }, { x, y: low }, { x: x + 0.004, y: high }); });
  return out.sort((a, b) => a.x - b.x);
}
function lineSet(data, color, width, extra) {
  return Object.assign({ data, borderColor: color, borderWidth: width, pointRadius: 0, fill: false,
                         tension: 0, spanGaps: true }, extra || {});
}
function limitSets(lims, range) {
  return lims.map(v => lineSet(level(v, range), RED, 1.3, { borderDash: [6, 4], order: 1 }));
}
function bandSets(band, range) {
  return [
    lineSet(level(band[0], range), 'rgba(0,0,0,0)', 0, { order: 9 }),
    lineSet(level(band[1], range), 'rgba(0,0,0,0)', 0, { order: 9, fill: '-1', backgroundColor: BAND })
  ];
}

// ================= rich text (italic symbols, sub/superscripts) =================
function segParts(ctx, segs, size) {
  let total = 0;
  const parts = segs.map(([text, st]) => {
    const sub = st.includes('s'), sup = st.includes('p');
    const fs = (sub || sup) ? size * 0.7 : size;
    const font = (st.includes('i') ? 'italic ' : '') + fs + 'px ' + SERIF;
    ctx.font = font;
    const w = ctx.measureText(text).width;
    total += w;
    return { text, font, w, dy: sub ? size * 0.25 : (sup ? -size * 0.38 : 0) };
  });
  return { parts, total };
}
function drawSegs(ctx, segs, cx, baseline, size) {
  const { parts, total } = segParts(ctx, segs, size);
  let x = cx - total / 2;
  ctx.textAlign = 'left'; ctx.textBaseline = 'alphabetic'; ctx.fillStyle = '#000';
  for (const p of parts) { ctx.font = p.font; ctx.fillText(p.text, x, baseline + p.dy); x += p.w; }
}
function drawTitle(chart, segs) {
  const a = chart.chartArea, ctx = chart.ctx;
  ctx.save();
  drawSegs(ctx, segs, (a.left + a.right) / 2, a.top - 16 + TITLE_SIZE * 0.33, TITLE_SIZE);
  ctx.restore();
}
function drawYTitle(chart, spec) {
  const a = chart.chartArea, ctx = chart.ctx;
  const size = AXIS_TITLE_SIZE;
  ctx.save();
  ctx.translate(spec.x, (a.top + a.bottom) / 2);
  ctx.rotate(-Math.PI / 2);
  ctx.fillStyle = '#000';
  if (spec.frac) {
    const small = size * 0.78;
    const lead = segParts(ctx, spec.lead, size);
    const num = segParts(ctx, spec.num, small);
    const den = segParts(ctx, spec.den, small);
    ctx.font = (size * 1.45) + 'px ' + SERIF;
    const pw = ctx.measureText('(').width;
    const fw = Math.max(num.total, den.total) + 4;
    const total = lead.total + size * 0.3 + pw * 2 + fw;
    let x = -total / 2;
    const base = size * 0.33;
    drawSegs(ctx, spec.lead, x + lead.total / 2, base, size);
    x += lead.total + size * 0.3;
    ctx.font = (size * 1.45) + 'px ' + SERIF; ctx.textAlign = 'left';
    ctx.fillText('(', x, base + size * 0.12);
    x += pw;
    drawSegs(ctx, spec.num, x + fw / 2, -size * 0.12, small);
    drawSegs(ctx, spec.den, x + fw / 2, size * 0.72, small);
    ctx.strokeStyle = '#000'; ctx.lineWidth = 0.8;
    ctx.beginPath(); ctx.moveTo(x + 1, size * 0.05); ctx.lineTo(x + fw - 1, size * 0.05); ctx.stroke();
    x += fw;
    ctx.font = (size * 1.45) + 'px ' + SERIF;
    ctx.fillText(')', x, base + size * 0.12);
  } else {
    drawSegs(ctx, spec.segs, 0, size * 0.33, size);
  }
  ctx.restore();
}

// ================= legends =================
function drawIcon(ctx, it, x, cy, w, fs) {
  ctx.save();
  if (it.kind === 'rect') {
    const s = Math.round(fs * 0.75);
    ctx.fillStyle = it.fill; ctx.strokeStyle = it.color; ctx.lineWidth = 1;
    const rx = Math.round(x + (w - s) / 2) + 0.5, ry = Math.round(cy - s / 2) + 0.5;
    ctx.fillRect(rx, ry, s, s); ctx.strokeRect(rx, ry, s, s);
  } else {
    ctx.strokeStyle = it.color; ctx.lineWidth = it.width || 1.3;
    if (it.kind === 'dash') ctx.setLineDash([4, 3]);
    ctx.beginPath(); ctx.moveTo(x, cy + 0.5); ctx.lineTo(x + w, cy + 0.5); ctx.stroke();
    if (it.kind === 'bar') { ctx.beginPath(); ctx.moveTo(x + w / 2, cy - 6); ctx.lineTo(x + w / 2, cy + 7); ctx.stroke(); }
  }
  ctx.restore();
}
function drawLegend(chart, lg) {
  if (!lg) return;
  const ctx = chart.ctx, a = chart.chartArea;
  const fs = lg.size || 16, iconW = lg.icon || 24, gap = 4, sep = lg.sep || 12, pad = 5, rowH = fs + 6;
  ctx.save();
  ctx.font = fs + 'px ' + SERIF;
  const widths = lg.items.map(it => iconW + gap + ctx.measureText(it.label).width);
  let boxW, boxH;
  if (lg.stack) { boxW = Math.max(...widths) + pad * 2; boxH = lg.items.length * rowH + pad * 2 - 2; }
  else { boxW = widths.reduce((s, w) => s + w, 0) + sep * (widths.length - 1) + pad * 2; boxH = rowH + pad * 2 - 2; }
  const x0 = Math.round(a.left + lg.fx * (a.right - a.left)) + 0.5;
  const y0 = Math.round(a.top + lg.fy * (a.bottom - a.top)) + 0.5;
  ctx.fillStyle = 'rgba(255,255,255,' + (lg.alpha || 1) + ')';
  ctx.fillRect(x0, y0, Math.round(boxW), Math.round(boxH));
  ctx.strokeStyle = '#333'; ctx.lineWidth = 1;
  ctx.strokeRect(x0, y0, Math.round(boxW), Math.round(boxH));
  let cx = x0 + pad, cy = y0 + pad - 1 + rowH / 2;
  lg.items.forEach((it, i) => {
    drawIcon(ctx, it, cx, cy, iconW, fs);
    ctx.fillStyle = '#000'; ctx.textAlign = 'left'; ctx.textBaseline = 'middle';
    ctx.font = fs + 'px ' + SERIF;
    ctx.fillText(it.label, cx + iconW + gap, cy + 1);
    if (lg.stack) cy += rowH; else cx += widths[i] + sep;
  });
  ctx.restore();
}

// ================= frame, inner tick marks, title, legend =================
const panelSpecs = new Map();
const decor = {
  id: 'decor',
  afterDatasetsDraw(chart) {
    const p = panelSpecs.get(chart.canvas);
    if (!p) return;
    const ctx = chart.ctx, a = chart.chartArea;
    const xs = chart.scales.x, ys = chart.scales.y;
    ctx.save();
    ctx.strokeStyle = '#555'; ctx.lineWidth = 1;
    ctx.beginPath();
    for (const t of xs.ticks) {
      const px = Math.round(xs.getPixelForValue(t.value)) + 0.5;
      ctx.moveTo(px, a.top); ctx.lineTo(px, a.top + 4);
      ctx.moveTo(px, a.bottom); ctx.lineTo(px, a.bottom - 4);
    }
    for (const t of ys.ticks) {
      const py = Math.round(ys.getPixelForValue(t.value)) + 0.5;
      ctx.moveTo(a.left, py); ctx.lineTo(a.left + 4, py);
      ctx.moveTo(a.right, py); ctx.lineTo(a.right - 4, py);
    }
    ctx.stroke();
    ctx.strokeStyle = '#000'; ctx.lineWidth = 1;
    ctx.strokeRect(Math.round(a.left) + 0.5, Math.round(a.top) + 0.5,
                   Math.round(a.right - a.left) - 1, Math.round(a.bottom - a.top) - 1);
    ctx.restore();
    drawLegend(chart, p.legend);
    drawTitle(chart, p.title);
    if (p.yTitle) drawYTitle(chart, p.yTitle);
  }
};

// ================= the ten panels =================
const flowTitle = { frac: true, x: 32, lead: [['Flow', '']], num: [['dm', ''], ['3', 'p']], den: [['min', '']] };
const L = dayRangeLeft, R = dayRangeRight;
const measItems = [
  { kind: 'line', color: BLUE, label: 'Measurement' },
  { kind: 'line', color: RED, label: 'Reference' },
  { kind: 'dash', color: RED, label: 'Actuator limits' } ];
const onOffItems = [
  { kind: 'line', color: BLUE, label: 'Measurement' },
  { kind: 'dash', color: RED, label: 'Actuator limits' } ];
const levelItems = [
  { kind: 'rect', color: '#333', fill: '#dcdcf6', label: 'Safety region' },
  { kind: 'line', color: BLACK, label: 'On/off' },
  { kind: 'line', color: GREEN, label: 'GP-MPC' },
  { kind: 'dash', color: RED, label: 'Limits' } ];
const volumeItems = [
  { kind: 'line', color: RED, label: 'On/off' },
  { kind: 'line', color: GREEN, label: 'GP-MPC' } ];

const panels = [
  { col: 0, row: 0,
    title: [['(a) Inflow ', ''], ['q', 'i'], ['t', 'si'], ['1', 's'], [' and rain forecast ', ''], ['d', 'i']],
    y: { min: 3, max: 10, ticks: [4, 6, 8, 10], color: RED },
    y2: { min: 0, max: 8, ticks: [0, 2, 4, 6, 8], color: ORANGE },
    yTitle: flowTitle,
    legend: { fx: 0.523, fy: 0.25, stack: true, items: [
      { kind: 'rect', color: ORANGE, fill: 'rgba(237,177,32,0.45)', label: 'Rain forecast' },
      { kind: 'bar', color: RED, label: 'Inflow' } ] },
    datasets: [
      lineSet(pairs(rainForecast), ORANGE, 0.8, { yAxisID: 'y2', fill: 'origin', backgroundColor: ORANGE, order: 5 }),
      lineSet(sampled(qt1Start, qt1Step, qt1Flow), RED, 1.3, { order: 1 })
    ] },
  { col: 1, row: 0,
    title: [['(b) Inflow ', ''], ['q', 'i'], ['p', 'si']],
    y: { min: 2.9, max: 13, ticks: [4, 6, 8, 10, 12] },
    legend: { fx: 0.025, fy: 0.04, stack: true, items: [{ kind: 'line', color: RED, label: 'Inflow' }] },
    datasets: [ lineSet(sampled(qpStart, qpStep, qpFlow), RED, 1.3) ] },
  { col: 0, row: 1,
    title: [['(c) Tank level ', ''], ['h', 'i'], ['t', 'si'], ['1', 's']],
    y: { min: 4, max: 7, ticks: [4, 5, 6, 7] },
    yTitle: { x: 32, segs: [['Level (dm)', '']] },
    legend: { fx: 0.008, fy: 0.026, items: levelItems },
    datasets: [
      ...bandSets(hT1Safety, L), ...limitSets(hT1Limits, L),
      lineSet(pairs(hT1OnOff), BLACK, 1.1, { order: 3 }),
      lineSet(sampled(hT1GpStart, hT1GpStep, hT1Gp), GREEN, 1.4, { order: 2 })
    ] },
  { col: 1, row: 1,
    title: [['(d) Tank level ', ''], ['h', 'i'], ['t', 'si'], ['2', 's']],
    y: { min: 3.83, max: 6.27, ticks: [4, 5, 6] },
    legend: { fx: 0.165, fy: 0.79, size: 11, icon: 16, sep: 6, items: levelItems },
    datasets: [
      ...bandSets(hT2Safety, R), ...limitSets(hT2Limits, R),
      lineSet(sampled(hT2OnOffStart, hT2OnOffStep, hT2OnOff), BLACK, 1.0, { order: 3 }),
      lineSet(sampled(hT2GpStart, hT2GpStep, hT2Gp), GREEN, 1.5, { order: 2 })
    ] },
  { col: 0, row: 2,
    title: [['(e) Accumulated overflow volume ', ''], ['V', 'i'], ['t', 'si'], ['1', 's']],
    y: { min: 0, max: 6, ticks: [0, 2, 4, 6] },
    yTitle: { x: 32, segs: [['Volume (dm', ''], ['3', 'p'], [')', '']] },
    legend: { fx: 0.028, fy: 0.045, stack: true, items: volumeItems },
    datasets: [
      lineSet(spikes(vT1OnOffSpikes, 0), RED, 1.1, { order: 3 }),
      lineSet([...spikes(vT1GpSpikes, 0), ...pairs(vT1GpJump),
               ...sampled(vT1GpAfterStart, vT1GpAfterStep, vT1GpAfter)], GREEN, 1.2, { order: 2 })
    ] },
  { col: 1, row: 2,
    title: [['(f) Accumulated overflow volume ', ''], ['V', 'i'], ['t', 'si'], ['2', 's']],
    y: { min: 0, max: 52, ticks: [0, 20, 40] },
    legend: { fx: 0.025, fy: 0.045, stack: true, items: volumeItems },
    datasets: [
      lineSet(sampled(vT2Start, vT2Step, vT2OnOff), RED, 1.2, { order: 3 }),
      lineSet(sampled(vT2Start, vT2Step, vT2Gp), GREEN, 1.2, { order: 2 })
    ] },
  { col: 0, row: 3,
    title: [['(g) Pump flow ', ''], ['Q', 'i'], ['t', 'si'], ['1', 's'], [': GP-MPC', '']],
    y: { min: 2, max: 7, ticks: [2, 4, 6] },
    yTitle: flowTitle,
    legend: { fx: 0.006, fy: 0.765, items: measItems },
    datasets: [
      ...limitSets(qT1Limits, L),
      lineSet(zip(qT1GpDays, qT1GpMeas), BLUE, 3.2, { order: 4 }),
      lineSet(zip(qT1GpDays, qT1GpRef), RED, 1.3, { order: 2 })
    ] },
  { col: 1, row: 3,
    title: [['(h) Pump flow ', ''], ['Q', 'i'], ['t', 'si'], ['2', 's'], [': GP-MPC', '']],
    y: { min: 4.85, max: 18.3, ticks: [5, 10, 15] },
    legend: { fx: 0.025, fy: 0.03, items: measItems },
    datasets: [
      ...limitSets(qT2Limits, R),
      lineSet(zip(qT2GpDays, qT2GpMeas), BLUE, 3.2, { order: 4 }),
      lineSet(zip(qT2GpDays, qT2GpRef), RED, 1.3, { order: 2 })
    ] },
  { col: 0, row: 4,
    title: [['(i) Pump flow ', ''], ['Q', 'i'], ['t', 'si'], ['1', 's'], [': On/off', '']],
    y: { min: 2, max: 7, ticks: [2, 4, 6] },
    yTitle: flowTitle,
    legend: { fx: 0.003, fy: 0.77, items: onOffItems },
    datasets: [
      ...limitSets(qT1Limits, L),
      lineSet(sampled(qT1OnOffStart, qT1OnOffStep, qT1OnOffMeas), BLUE, 1.0, { order: 4 })
    ] },
  { col: 1, row: 4,
    title: [['(j) Pump flow ', ''], ['Q', 'i'], ['t', 'si'], ['2', 's'], [': On/off', '']],
    y: { min: 4.67, max: 15.26, ticks: [6, 8, 10, 12, 14] },
    legend: { fx: 0.028, fy: 0.77, alpha: 0.72, items: onOffItems },
    datasets: [
      ...limitSets(qT2Limits, R),
      lineSet(onOffWithDrops(qT2OnStart, qT2OnStep, qT2OnNoise, qT2Off, qT2OnLevel), BLUE, 1.0, { order: 4 })
    ] }
];

// ================= build the charts =================
const fig = document.getElementById('figure');
const tickFont = { family: SERIF, size: TICK_SIZE };

panels.forEach(p => {
  const col = columns[p.col];
  const bottomRow = p.row === 4;
  const xAxisH = bottomRow ? 44 : 10;
  const height = TITLE_SPACE + plotH + xAxisH;
  const yAxisW = col.plotLeft - col.canvasLeft;
  const rightSpace = col.canvasLeft + col.canvasWidth - col.plotRight;

  const canvas = document.createElement('canvas');
  canvas.width = col.canvasWidth; canvas.height = height;
  canvas.style.width = col.canvasWidth + 'px'; canvas.style.height = height + 'px';
  canvas.style.left = col.canvasLeft + 'px';
  canvas.style.top = (rowTop[p.row] - TITLE_SPACE) + 'px';
  fig.appendChild(canvas);
  panelSpecs.set(canvas, p);

  const scales = {
    x: {
      type: 'linear', min: col.range[0], max: col.range[1],
      afterBuildTicks: s => { s.ticks = dayTicks.map(v => ({ value: v })); },
      afterFit: s => { s.height = xAxisH; },
      grid: { color: GRID, lineWidth: 1, drawTicks: false },
      border: { display: false },
      ticks: { display: bottomRow, font: tickFont, color: '#000', padding: 4, maxRotation: 0, autoSkip: false },
      title: { display: bottomRow, text: 'Time (day)', color: '#000',
               font: { family: SERIF, size: 17 }, padding: { top: 0, bottom: 6 } }
    },
    y: {
      type: 'linear', min: p.y.min, max: p.y.max,
      afterBuildTicks: s => { s.ticks = p.y.ticks.map(v => ({ value: v })); },
      afterFit: s => { s.width = yAxisW; },
      grid: { color: GRID, lineWidth: 1, drawTicks: false },
      border: { display: false },
      ticks: { font: tickFont, color: p.y.color || '#000', padding: 6, callback: v => String(v) }
    }
  };
  if (p.y2) {
    scales.y2 = {
      type: 'linear', position: 'right', reverse: true, min: p.y2.min, max: p.y2.max,
      afterBuildTicks: s => { s.ticks = p.y2.ticks.map(v => ({ value: v })); },
      afterFit: s => { s.width = rightSpace; },
      grid: { display: false, drawTicks: false },
      border: { display: false },
      ticks: { font: tickFont, color: p.y2.color, padding: 5, callback: v => String(v) }
    };
  }

  new Chart(canvas, {
    type: 'line',
    data: { datasets: p.datasets },
    options: {
      responsive: false, animation: false, devicePixelRatio: 1, events: [],
      parsing: false, normalized: true,
      layout: { autoPadding: false, padding: { top: TITLE_SPACE, left: 0, bottom: 0, right: p.y2 ? 0 : rightSpace } },
      plugins: { legend: { display: false }, tooltip: { enabled: false }, title: { display: false } },
      scales
    },
    plugins: [decor]
  });
});
</script>
</body>
</html>
